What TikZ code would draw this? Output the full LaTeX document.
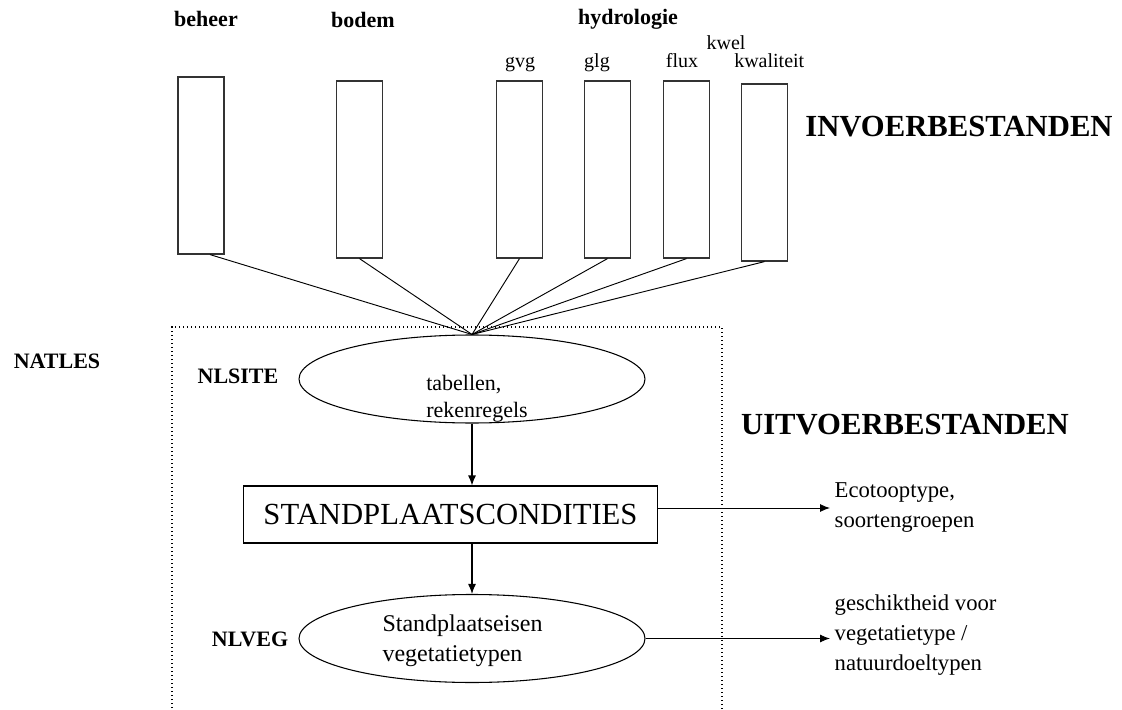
\documentclass[tikz,border=0pt]{standalone}
\usepackage{fontspec}
\setmainfont{Liberation Serif}
\usetikzlibrary{shapes.geometric,arrows.meta,positioning}

\begin{document}
\begin{tikzpicture}[x=0.75pt,y=-0.75pt,
	filebox/.style = {draw=black!80, line width=0.9pt, minimum width=34.5pt, minimum height=132.75pt, inner sep=0pt},
	headlabel/.style = {anchor=base, font=\fontsize{16.5}{18}\selectfont\bfseries},
	sublabel/.style = {anchor=base, font=\fontsize{15}{17}\selectfont},
	biglabel/.style = {anchor=base, font=\fontsize{23}{26}\selectfont\bfseries},
	roundnode/.style = {ellipse, draw, line width=0.8pt, minimum width=259.5pt, minimum height=66pt, inner sep=0pt},
	squarednode/.style = {rectangle, draw, line width=0.8pt, minimum width=310pt, minimum height=42.75pt, inner sep=0pt, font=\fontsize{23}{26}\selectfont},
	outtext/.style = {anchor=west, align=left, font=\fontsize{17}{22.5}\selectfont},
	flow/.style = {line width=0.9pt, -{Latex[length=7.5pt,width=6pt]}},
]
\useasboundingbox (0,0) rectangle (1122,710);

% invoerbestanden
\node[filebox] (beheer) at (201,165.5) {};
\node[filebox] (bodem) at (359.5,169.5) {};
\node[filebox] (gvg) at (519.5,169.5) {};
\node[filebox] (glg) at (607.5,169.5) {};
\node[filebox] (flux) at (686.5,169.5) {};
\node[filebox] (kwaliteit) at (764.5,172.5) {};

\node[headlabel] (beheerlabel) at (206,27) {beheer};
\node[headlabel] (bodemlabel) at (363,28) {bodem};
\node[headlabel] (hydrolabel) at (628,25) {hydrologie};
\node[sublabel] (gvglabel) at (520,68) {gvg};
\node[sublabel] (glglabel) at (597,68) {glg};
\node[sublabel] (fluxlabel) at (682,68) {flux};
\node[sublabel] (kwellabel) at (726,50) {kwel};
\node[sublabel, anchor=base west, inner xsep=0pt] (kwaliteitlabel) at (734,68) {kwaliteit};

\node[biglabel] (invoer) at (959,137) {INVOERBESTANDEN};
\node[biglabel] (uitvoer) at (905,434) {UITVOERBESTANDEN};

% NATLES
\draw[line width=1pt, dotted] (172,712) |- (722,327) -- (722,712);
\node[headlabel] (natles) at (57,368) {NATLES};

\node[roundnode] (tabel) at (472,379) {};
\node[align=left, font=\fontsize{16.5}{20}\selectfont] (tabeltext) at (477,399) {tabellen,\\ rekenregels};
\node[headlabel] (nlsite) at (238,383) {NLSITE};
\node[squarednode] (stand) at (450.5,514.5) {STANDPLAATSCONDITIES};
\node[roundnode] (eisen) at (472,638.5) {};
\node[align=left, font=\fontsize{18}{22.5}\selectfont] (eisentext) at (462.5,641) {Standplaatseisen\\ vegetatietypen};
\node[headlabel] (nlveg) at (250,646) {NLVEG};

\node[outtext] (eco) at (830,508) {Ecotooptype,\\ soortengroepen};
\node[outtext] (geschikt) at (830,635) {geschiktheid voor\\ vegetatietype /\\ natuurdoeltypen};

\draw[line width=0.7pt] ([xshift=6.75pt]beheer.south)--(tabel.north);
\foreach \f in {bodem,gvg,glg,flux,kwaliteit}
	\draw[line width=0.7pt] (\f.south)--(tabel.north);

\draw[flow](tabel.south)--(tabel.south|-stand.north);
\draw[flow](tabel.south|-stand.south)--(eisen.north);
\draw[flow, line width=0.7pt](stand.east|-eco.west)--(eco.west);
\draw[flow, line width=0.7pt](eisen.east)--(eisen.east-|geschikt.west);

\end{tikzpicture}
\end{document}
